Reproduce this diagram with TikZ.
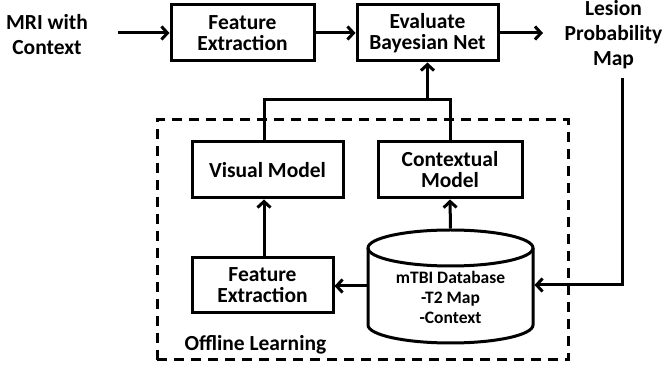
\documentclass[tikz,border=0pt]{standalone}
\usepackage{fontspec}
\setmainfont{Carlito}
\usetikzlibrary{arrows.meta}
\begin{document}
\begin{tikzpicture}[x=1pt,y=1pt,
  line width=3pt,
  arr/.style={-{Straight Barb[length=6pt,width=13pt,line width=3pt]}},
  blk/.style={draw,rectangle,align=center,inner sep=0pt,font=\fontsize{21.5}{21}\selectfont\bfseries},
  freetxt/.style={align=center,inner sep=0pt,font=\fontsize{21.5}{25}\selectfont\bfseries},
  dbtxt/.style={align=center,inner sep=0pt,font=\fontsize{17.5}{20}\selectfont\bfseries}]
\useasboundingbox (0,0) rectangle (664,369);
% top row
\node[freetxt] (mri) at (47,334) {MRI with\\Context};
\coordinate (mriend) at (118,336);
\node[blk,minimum width=143pt,minimum height=56pt] (fe1) at (242.5,336) {Feature\\Extraction};
\node[blk,minimum width=141pt,minimum height=56pt] (eb) at (427.5,336) {Evaluate\\Bayesian Net};
\coordinate (outend) at (543,336);
\node[freetxt] (lpm) at (613.5,334) {Lesion\\Probability\\Map};
% offline box
\node[draw,dashed,dash pattern=on 10pt off 7pt,rectangle,minimum width=411pt,minimum height=240pt,inner sep=0pt] (off) at (362.5,129) {};
\node[freetxt,anchor=west] (offl) at (183,24) {Offline Learning};
\node[blk,minimum width=151pt,minimum height=56pt] (vm) at (267.5,199) {Visual Model};
\node[blk,minimum width=144pt,minimum height=56pt] (cm) at (450,199) {Contextual\\Model};
\node[blk,minimum width=141pt,minimum height=55pt] (fe2) at (262.5,83.5) {Feature\\Extraction};
% cylinder
\node[rectangle,minimum width=165pt,minimum height=113pt,inner sep=0pt] (db) at (450.5,82.5) {};
\draw (450.5,121) ellipse (82.5pt and 18pt);
\draw (368,121) -- (368,44) arc[start angle=180,end angle=360,x radius=82.5pt,y radius=18pt] -- (533,121);
\node[dbtxt] (dbt) at (450.5,72) {mTBI Database\\-T2 Map\\-Context};
% connectors
\draw[arr] (mriend) -- (fe1.west);
\draw[arr] (fe1.east) -- (eb.west);
\draw[arr] (eb.east) -- (outend);
\coordinate (jl) at (264,269);
\coordinate (jr) at (cm.north |- 0,269);
\coordinate (jm) at (eb.south |- 0,269);
\draw (jl |- vm.north) -- (jl) -- (jr) -- (cm.north);
\draw[arr] (jm) -- (eb.south);
\coordinate (ltop) at (622,291);
\coordinate (lcor) at (622,84);
\draw[arr] (ltop) -- (lcor) -- (db.east |- lcor);
\draw[arr] (db.west |- 0,83) -- (fe2.east |- 0,83);
\draw[arr] (db.north) -- (cm.south);
\draw[arr] (jl |- fe2.north) -- (jl |- vm.south);
\end{tikzpicture}
\end{document}
